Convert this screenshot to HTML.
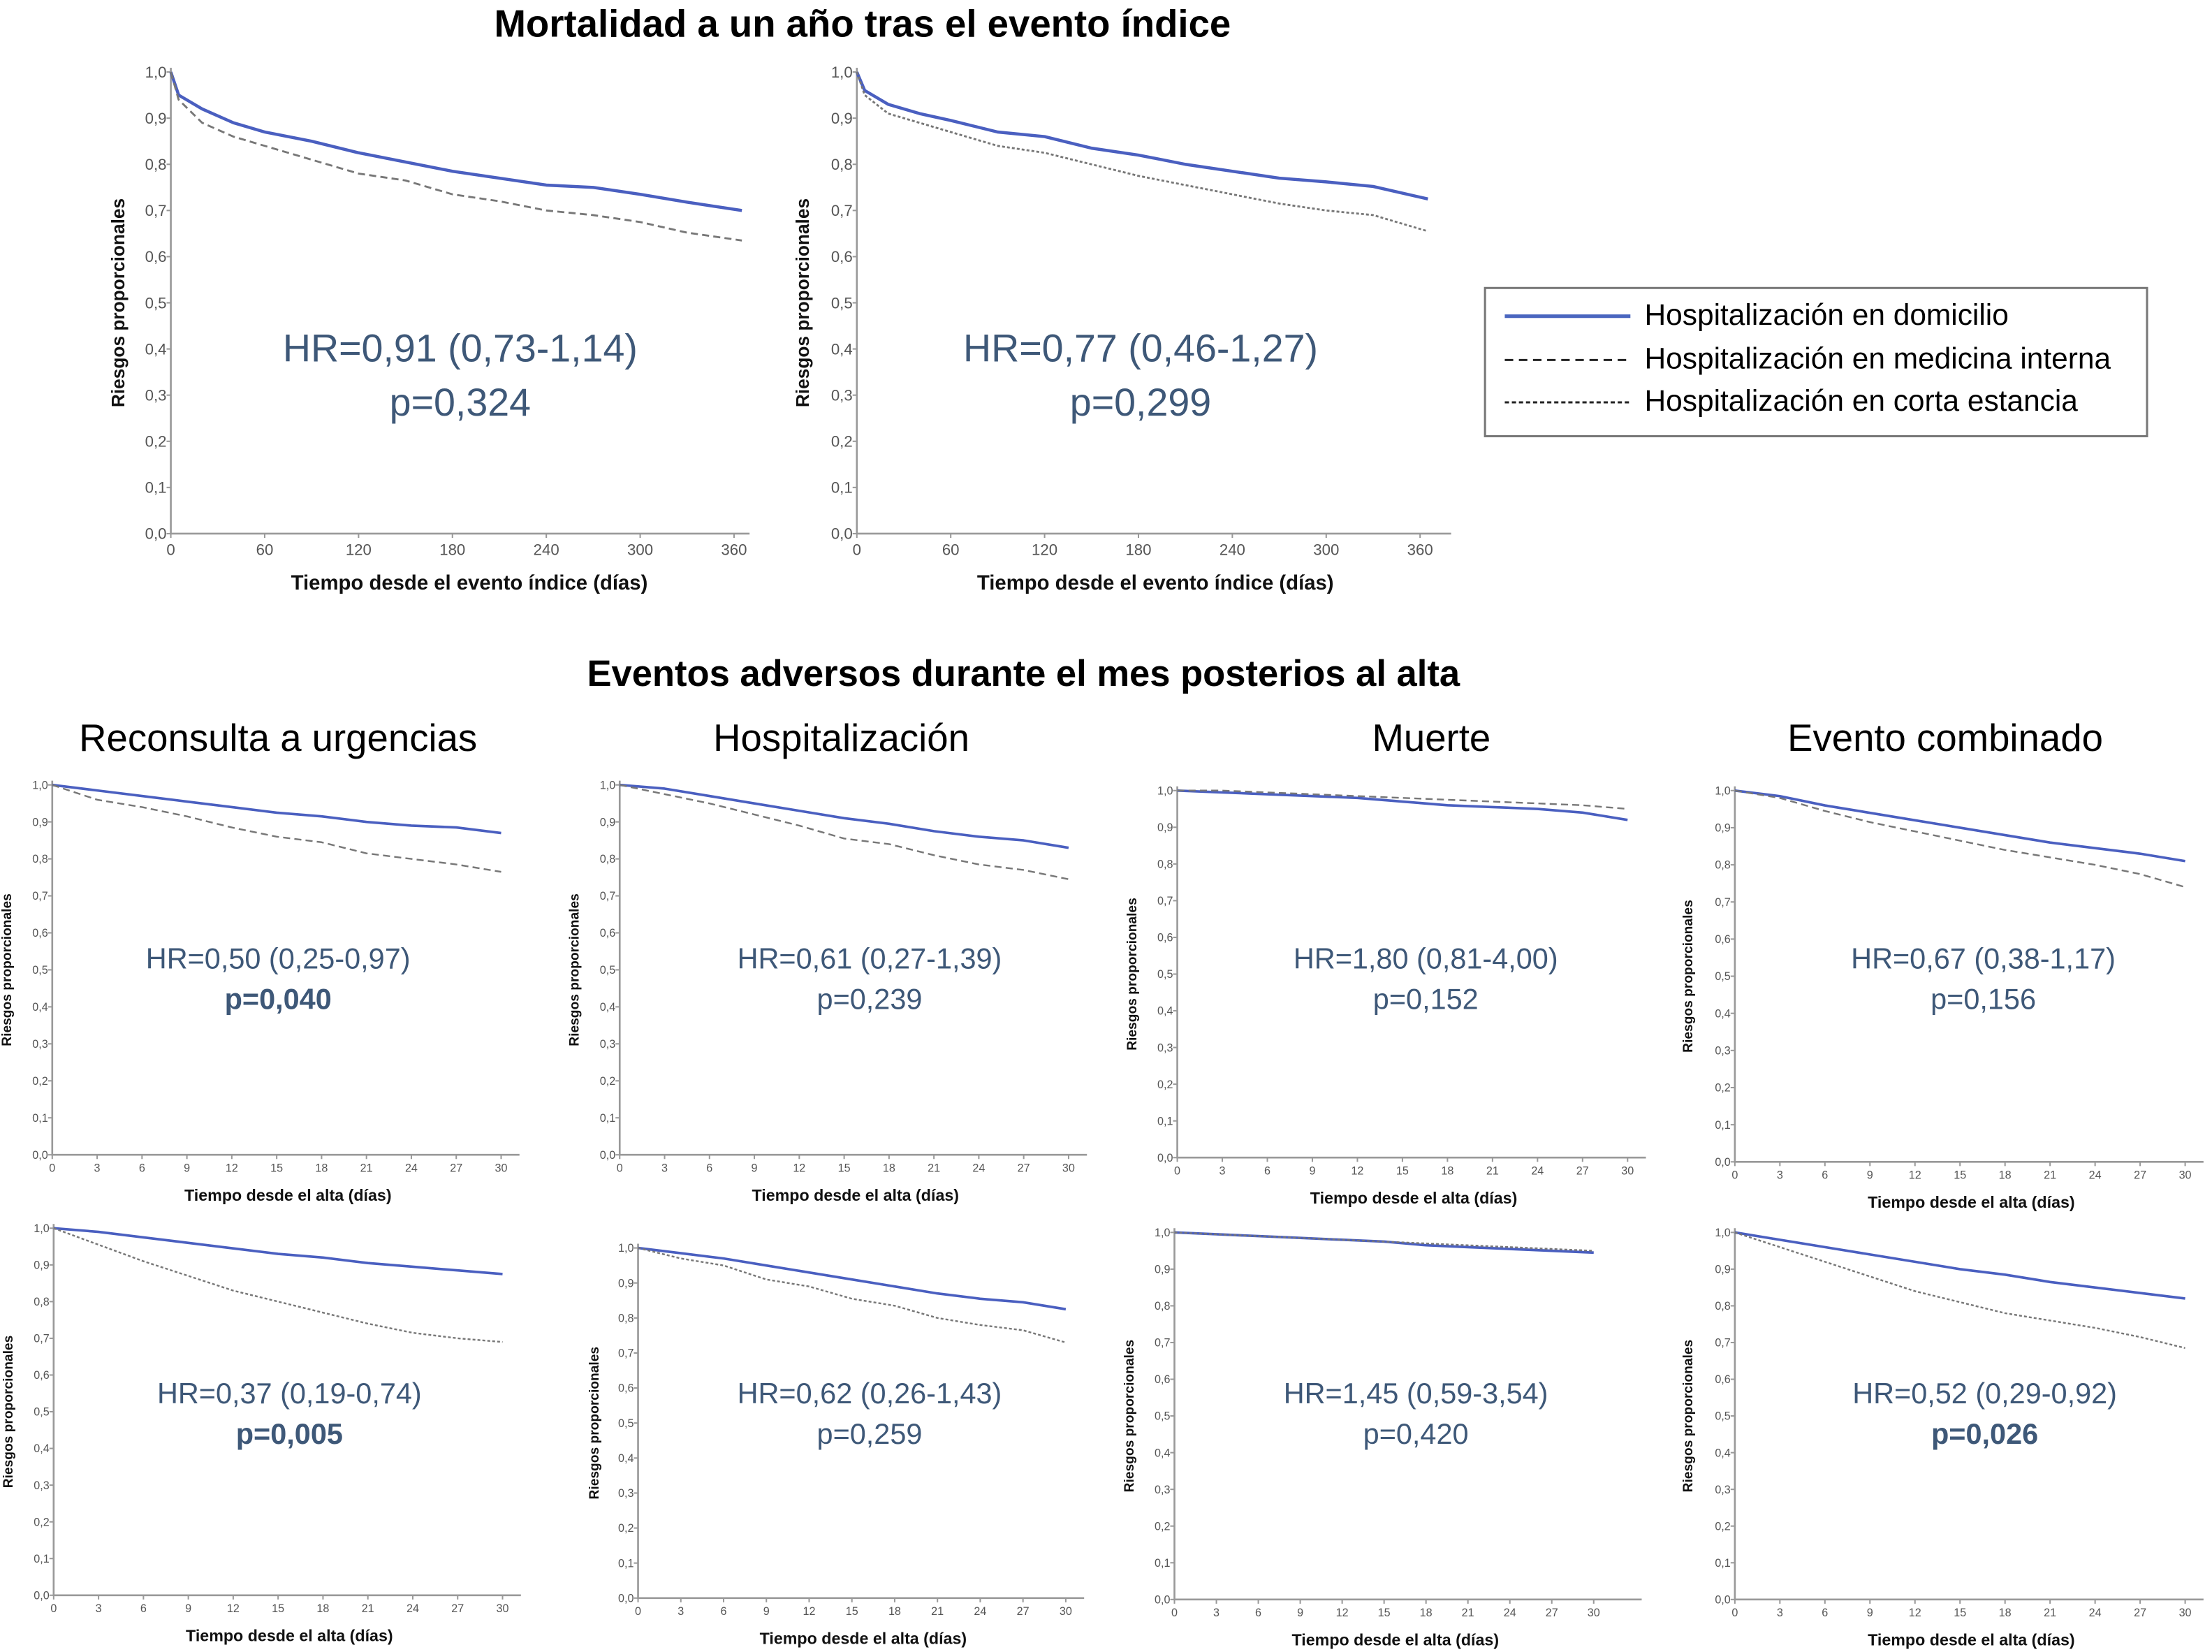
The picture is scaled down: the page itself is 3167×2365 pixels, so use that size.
<!DOCTYPE html>
<html><head><meta charset="utf-8"><style>
html,body{margin:0;padding:0;background:#fff;}
svg{display:block;}
text{font-family:"Liberation Sans",sans-serif;}
</style></head><body>
<svg id="fig" width="3167" height="2365" viewBox="0 0 1567 1170.2" xmlns="http://www.w3.org/2000/svg">
<text x="611" y="26" text-anchor="middle" font-size="27" font-weight="bold" fill="#000">Mortalidad a un año tras el evento índice</text>
<text x="725" y="486" text-anchor="middle" font-size="26" font-weight="bold" fill="#000">Eventos adversos durante el mes posterios al alta</text>
<text x="197" y="532" text-anchor="middle" font-size="27" fill="#000">Reconsulta a urgencias</text>
<text x="596" y="532" text-anchor="middle" font-size="27" fill="#000">Hospitalización</text>
<text x="1014" y="532" text-anchor="middle" font-size="27" fill="#000">Muerte</text>
<text x="1378" y="532" text-anchor="middle" font-size="27" fill="#000">Evento combinado</text>
<g>
<rect x="1052" y="204" width="469" height="105" fill="#fff" stroke="#777" stroke-width="1.5"/>
<line x1="1066" y1="224" x2="1155" y2="224" stroke="#4a66bf" stroke-width="2.5"/>
<text x="1165" y="230" font-size="21" fill="#000">Hospitalización en domicilio</text>
<line x1="1066" y1="255" x2="1155" y2="255" stroke="#222" stroke-width="1.5" stroke-dasharray="6,4"/>
<text x="1165" y="261" font-size="21" fill="#000">Hospitalización en medicina interna</text>
<line x1="1066" y1="285" x2="1155" y2="285" stroke="#222" stroke-width="1.5" stroke-dasharray="3,2"/>
<text x="1165" y="291" font-size="21" fill="#000">Hospitalización en corta estancia</text>
</g>
</svg>
<script>
// ---- data ----
const yearDays = [0,5,20,40,60,90,120,150,180,210,240,270,300,330,365];
const monthDays = [0,3,6,9,12,15,18,21,24,27,30];
const yTickLabels = ["0,0","0,1","0,2","0,3","0,4","0,5","0,6","0,7","0,8","0,9","1,0"];
const yearTickLabels = ["0","60","120","180","240","300","360"];
const monthTickLabels = ["0","3","6","9","12","15","18","21","24","27","30"];

const mortA_dom = [1,0.95,0.92,0.89,0.87,0.85,0.825,0.805,0.785,0.77,0.755,0.75,0.735,0.718,0.70];
const mortA_mi  = [1,0.94,0.89,0.86,0.84,0.81,0.78,0.765,0.735,0.72,0.70,0.69,0.675,0.652,0.635];
const mortB_dom = [1,0.96,0.93,0.91,0.895,0.87,0.86,0.835,0.82,0.80,0.785,0.77,0.762,0.752,0.725];
const mortB_ce  = [1,0.95,0.91,0.89,0.87,0.84,0.825,0.80,0.775,0.755,0.735,0.715,0.70,0.69,0.655];

const recon1_dom = [1,0.985,0.97,0.955,0.94,0.925,0.915,0.90,0.89,0.885,0.87];
const recon1_mi  = [1,0.96,0.94,0.915,0.885,0.86,0.845,0.815,0.80,0.785,0.765];
const hosp1_dom  = [1,0.99,0.97,0.95,0.93,0.91,0.895,0.875,0.86,0.85,0.83];
const hosp1_mi   = [1,0.975,0.95,0.92,0.89,0.855,0.84,0.81,0.785,0.77,0.745];
const muerte1_dom= [1,0.995,0.99,0.985,0.98,0.97,0.96,0.955,0.95,0.94,0.92];
const muerte1_mi = [1,1,0.995,0.99,0.985,0.98,0.975,0.97,0.965,0.96,0.95];
const comb1_dom  = [1,0.985,0.96,0.94,0.92,0.90,0.88,0.86,0.845,0.83,0.81];
const comb1_mi   = [1,0.98,0.945,0.915,0.89,0.865,0.84,0.82,0.80,0.775,0.74];

const recon2_dom = [1,0.99,0.975,0.96,0.945,0.93,0.92,0.905,0.895,0.885,0.875];
const recon2_ce  = [1,0.955,0.91,0.87,0.83,0.80,0.77,0.74,0.715,0.70,0.69];
const hosp2_dom  = [1,0.985,0.97,0.95,0.93,0.91,0.89,0.87,0.855,0.845,0.825];
const hosp2_ce   = [1,0.97,0.95,0.91,0.89,0.855,0.835,0.80,0.78,0.765,0.73];
const muerte2_dom= [1,0.995,0.99,0.985,0.98,0.975,0.965,0.96,0.955,0.95,0.945];
const muerte2_ce = [1,0.995,0.99,0.985,0.98,0.975,0.97,0.965,0.96,0.955,0.95];
const comb2_dom  = [1,0.98,0.96,0.94,0.92,0.90,0.885,0.865,0.85,0.835,0.82];
const comb2_ce   = [1,0.96,0.92,0.88,0.84,0.81,0.78,0.76,0.74,0.715,0.685];

const svg = document.getElementById('fig');
const NS = 'http://www.w3.org/2000/svg';
function mk(tag, attrs, parent){const e=document.createElementNS(NS,tag);for(const k in attrs)e.setAttribute(k,attrs[k]);(parent||svg).appendChild(e);return e;}

function chart(c){
  const g = mk('g',{});
  
  
  const sx = v => c.x0 + (v/c.xmax)*(c.x1-c.x0);
  const sy = v => c.y0 - v*(c.y0-c.y1);
  const ax = mk('path',{d:`M${c.x0},${c.y1-3}V${c.y0}H${c.axEnd}`,fill:'none',stroke:'#999','stroke-width':1.3},g);
  
  
  yTickLabels.forEach((lab,i)=>{
    const v=i/10, y=sy(v);
    mk('line',{x1:c.x0-3,y1:y,x2:c.x0,y2:y,stroke:'#999','stroke-width':1},g);
    const t=mk('text',{x:c.x0-3,y:y+c.tf*0.35,'text-anchor':'end','font-size':c.tf,fill:'#555'},g);
    
    
    t.textContent=lab;
  });
  c.xLabels.forEach((lab)=>{
    const x=sx(+lab);
    mk('line',{x1:x,y1:c.y0,x2:x,y2:c.y0+3,stroke:'#999','stroke-width':1},g);
    const t=mk('text',{x:x,y:c.y0+c.tf+4,'text-anchor':'middle','font-size':c.tf,fill:'#555'},g);
    
    
    t.textContent=lab;
  });
  const xt=mk('text',{x:(c.x0+c.x1)/2+c.xlOff,y:c.y0+c.tf+c.lf+c.xtGap,'text-anchor':'middle','font-size':c.lf,'font-weight':'bold',fill:'#111'},g);
  
  
  xt.textContent=c.xTitle;
  const ym=(c.y0+c.y1)/2;
  const yt=mk('text',{x:c.ytx,y:ym,'text-anchor':'middle','font-size':c.ylf,'font-weight':'bold',fill:'#111',transform:`rotate(-90 ${c.ytx} ${ym})`},g);
  
  
  yt.textContent='Riesgos proporcionales';
  c.series.forEach(s=>{
    let d=`M${sx(c.times[0])},${sy(s.v[0])}`;
    for(let i=1;i<s.v.length;i++){d+=`L${sx(c.times[i])},${sy(s.v[i])}`;}
    const p=mk('path',{d:d,fill:'none',stroke:s.col,'stroke-width':s.w,'stroke-dasharray':s.dash||'none','stroke-linejoin':'round'},g);
    
    
  });
  const h=mk('text',{x:c.hx,y:c.hy,'text-anchor':'middle','font-size':c.hf,fill:'#3e5878'},g);
  
  
  h.textContent=c.hr;
  const p=mk('text',{x:c.hx,y:c.hy+c.hf*1.4,'text-anchor':'middle','font-size':c.hf,fill:'#3e5878','font-weight':c.bold?'bold':'normal'},g);
  
  
  p.textContent=c.p;
}
const BLUE='#4a5fc0', GR='#777';
const big={xmax:360,times:yearDays,xLabels:yearTickLabels,tf:11,lf:14.5,ylf:13,xtGap:14,hf:27.5,xTitle:'Tiempo desde el evento índice (días)',xlOff:12};
chart(Object.assign({},big,{name:'chart-mortality-medicina-interna',x0:121,x1:520,axEnd:531,y0:378,y1:51,ytx:88,hx:326,hy:256,hr:'HR=0,91 (0,73-1,14)',p:'p=0,324',
  series:[{name:'line-domicilio',v:mortA_dom,col:BLUE,w:2.2},{name:'line-medicina-interna',v:mortA_mi,col:GR,w:1.4,dash:'5,3'}]}));
chart(Object.assign({},big,{name:'chart-mortality-corta-estancia',x0:607,x1:1006,axEnd:1028,y0:378,y1:51,ytx:573,hx:808,hy:256,hr:'HR=0,77 (0,46-1,27)',p:'p=0,299',
  series:[{name:'line-domicilio',v:mortB_dom,col:BLUE,w:2.2},{name:'line-corta-estancia',v:mortB_ce,col:GR,w:1.4,dash:'2,1.5'}]}));
const sm={xmax:30,times:monthDays,xLabels:monthTickLabels,tf:8,lf:11.5,ylf:9.5,xtGap:13,hf:20.5,xTitle:'Tiempo desde el alta (días)',xlOff:8};
const smalls=[
 ['chart-reconsulta-mi',37,355,368,818,556,8,197,686,'HR=0,50  (0,25-0,97)','p=0,040',true,recon1_dom,recon1_mi,'5,3'],
 ['chart-hospitalizacion-mi',439,757,770,818,556,410,616,686,'HR=0,61  (0,27-1,39)','p=0,239',false,hosp1_dom,hosp1_mi,'5,3'],
 ['chart-muerte-mi',834,1153,1166,820,560,805,1010,686,'HR=1,80  (0,81-4,00)','p=0,152',false,muerte1_dom,muerte1_mi,'5,3'],
 ['chart-combinado-mi',1229,1548,1561,823,560,1199,1405,686,'HR=0,67  (0,38-1,17)','p=0,156',false,comb1_dom,comb1_mi,'5,3'],
 ['chart-reconsulta-ce',38,356,369,1130,870,9,205,994,'HR=0,37  (0,19-0,74)','p=0,005',true,recon2_dom,recon2_ce,'2,1.5'],
 ['chart-hospitalizacion-ce',452,755,768,1132,884,424,616,994,'HR=0,62  (0,26-1,43)','p=0,259',false,hosp2_dom,hosp2_ce,'2,1.5'],
 ['chart-muerte-ce',832,1129,1163,1133,873,803,1003,994,'HR=1,45  (0,59-3,54)','p=0,420',false,muerte2_dom,muerte2_ce,'2,1.5'],
 ['chart-combinado-ce',1229,1548,1561,1133,873,1199,1406,994,'HR=0,52  (0,29-0,92)','p=0,026',true,comb2_dom,comb2_ce,'2,1.5']
];
smalls.forEach(s=>{
  chart(Object.assign({},sm,{name:s[0],x0:s[1],x1:s[2],axEnd:s[3],y0:s[4],y1:s[5],ytx:s[6],hx:s[7],hy:s[8],hr:s[9],p:s[10],bold:s[11],
    series:[{name:'line-domicilio',v:s[12],col:BLUE,w:1.8},{name:'line-comparador',v:s[13],col:GR,w:1.2,dash:s[14]}]}));
});
</script>
</body></html>
